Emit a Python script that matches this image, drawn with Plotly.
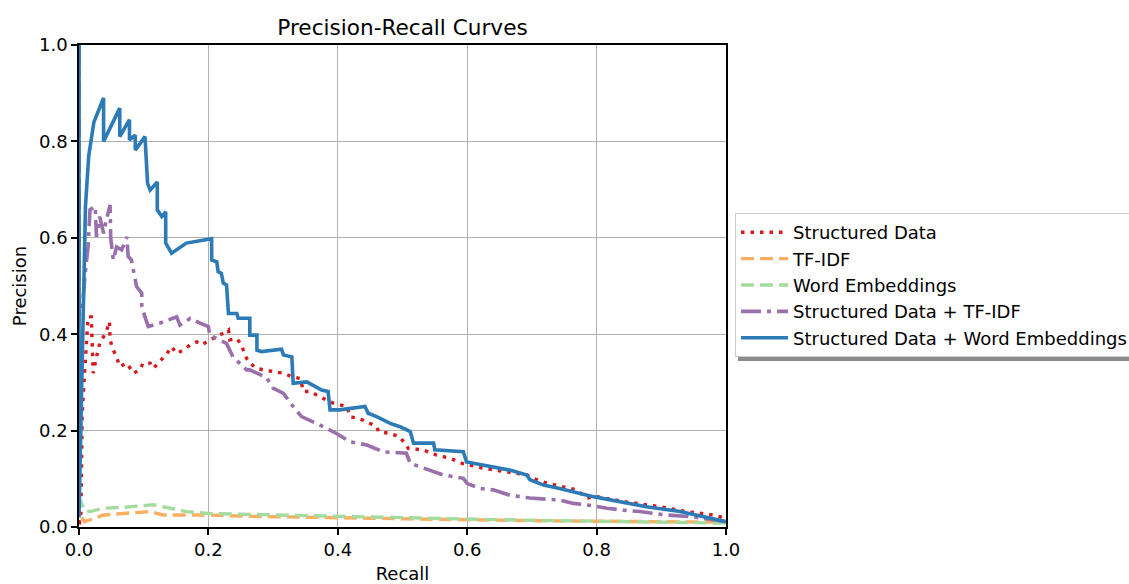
import plotly.graph_objects as go

# ---------------- data ----------------
sd_recall = [0.0, 0.0, 0.003, 0.004, 0.005, 0.008, 0.011, 0.014, 0.019, 0.02, 0.022, 0.022, 0.027,
             0.032, 0.038, 0.043, 0.047, 0.048, 0.053, 0.058, 0.063, 0.074, 0.084, 0.094,
             0.099, 0.11, 0.115, 0.125, 0.136, 0.143, 0.151, 0.161, 0.172, 0.182, 0.19,
             0.202, 0.213, 0.223, 0.231, 0.233, 0.244, 0.251, 0.254, 0.259, 0.264, 0.275,
             0.285, 0.3, 0.316, 0.329, 0.342, 0.347, 0.357, 0.383, 0.393, 0.414, 0.419,
             0.439, 0.46, 0.463, 0.481, 0.496, 0.509, 0.532, 0.553, 0.573, 0.592, 0.625,
             0.646, 0.67, 0.692, 0.702, 0.723, 0.769, 0.785, 0.8, 0.846, 0.898, 0.939,
             0.98, 1.0]
sd_precision = [1.0, 0.0, 0.03, 0.167, 0.236, 0.305, 0.374, 0.436, 0.436, 0.395, 0.353, 0.319, 0.353,
                0.381, 0.395, 0.409, 0.426, 0.388, 0.367, 0.353, 0.333, 0.34, 0.319, 0.326,
                0.34, 0.34, 0.329, 0.343, 0.36, 0.374, 0.36, 0.367, 0.378, 0.384, 0.378,
                0.388, 0.395, 0.402, 0.409, 0.388, 0.391, 0.378, 0.367, 0.35, 0.34, 0.329,
                0.326, 0.322, 0.319, 0.312, 0.308, 0.281, 0.281, 0.263, 0.257, 0.25, 0.229,
                0.222, 0.208, 0.198, 0.194, 0.187, 0.163, 0.16, 0.149, 0.143, 0.132, 0.122,
                0.118, 0.112, 0.108, 0.101, 0.091, 0.077, 0.06, 0.063, 0.052, 0.042, 0.032,
                0.025, 0.018]

tfidf_recall = [0.0, 0.0, 0.004, 0.009, 0.017, 0.038, 0.068, 0.11, 0.13, 0.192, 0.27, 0.35, 0.45,
                0.55, 0.62, 0.7, 0.8, 0.9, 1.0]
tfidf_precision = [1.0, 0.02, 0.02, 0.011, 0.015, 0.025, 0.028, 0.032, 0.025, 0.025, 0.022, 0.02,
                   0.018, 0.016, 0.014, 0.013, 0.012, 0.011, 0.01]

we_recall = [0.0, 0.0, 0.002, 0.004, 0.008, 0.017, 0.038, 0.07, 0.1, 0.115, 0.13, 0.166, 0.2,
             0.295, 0.45, 0.55, 0.62, 0.7, 0.8, 0.9, 1.0]
we_precision = [1.0, 0.05, 0.056, 0.049, 0.035, 0.032, 0.039, 0.041, 0.044, 0.046, 0.042, 0.032,
                0.028, 0.025, 0.021, 0.018, 0.016, 0.014, 0.012, 0.01, 0.008]

sdtf_recall = [0.0, 0.0, 0.005, 0.009, 0.014, 0.017, 0.025, 0.027, 0.032, 0.038, 0.041, 0.048,
               0.049, 0.053, 0.058, 0.066, 0.074, 0.076, 0.081, 0.084, 0.089, 0.097, 0.097,
               0.102, 0.107, 0.125, 0.151, 0.156, 0.172, 0.187, 0.2, 0.202, 0.213, 0.228,
               0.238, 0.249, 0.259, 0.264, 0.28, 0.29, 0.3, 0.316, 0.331, 0.344, 0.367,
               0.398, 0.419, 0.445, 0.47, 0.506, 0.512, 0.532, 0.563, 0.594, 0.6, 0.62,
               0.64, 0.666, 0.697, 0.743, 0.764, 0.795, 0.816, 0.841, 0.867, 0.908, 0.949,
               0.98, 1.0]
sdtf_precision = [1.0, 0.44, 0.45, 0.519, 0.581, 0.658, 0.665, 0.602, 0.644, 0.609, 0.63, 0.668,
                  0.6, 0.554, 0.581, 0.575, 0.602, 0.561, 0.554, 0.533, 0.499, 0.485, 0.457,
                  0.436, 0.416, 0.423, 0.436, 0.419, 0.433, 0.423, 0.416, 0.398, 0.391, 0.381,
                  0.353, 0.34, 0.326, 0.326, 0.315, 0.31, 0.288, 0.277, 0.25, 0.229, 0.215,
                  0.194, 0.177, 0.17, 0.156, 0.153, 0.132, 0.122, 0.108, 0.101, 0.09, 0.08,
                  0.077, 0.066, 0.06, 0.056, 0.049, 0.044, 0.039, 0.035, 0.032, 0.025, 0.021,
                  0.015, 0.011]

sdwe_recall = [0.0, 0.0, 0.002, 0.005, 0.008, 0.010, 0.015, 0.023, 0.038, 0.038, 0.063,
               0.063, 0.078, 0.078, 0.087, 0.087, 0.102, 0.106, 0.11, 0.121, 0.121, 0.128,
               0.134, 0.134, 0.143, 0.166, 0.205, 0.205, 0.213, 0.215, 0.22, 0.223, 0.228,
               0.231, 0.244, 0.246, 0.264, 0.264, 0.275, 0.275, 0.282, 0.313, 0.316, 0.329,
               0.331, 0.352, 0.375, 0.385, 0.388, 0.403, 0.442, 0.447, 0.46, 0.481, 0.496,
               0.512, 0.517, 0.548, 0.55, 0.594, 0.599, 0.625, 0.651, 0.666, 0.692, 0.697,
               0.718, 0.743, 0.795, 0.836, 0.877, 0.929, 0.98, 1.0]
sdwe_precision = [1.0, 0.02, 0.15, 0.35, 0.5, 0.665, 0.77, 0.84, 0.89, 0.8, 0.869, 0.81,
                  0.845, 0.803, 0.813, 0.782, 0.81, 0.713, 0.699, 0.716, 0.658, 0.644, 0.654,
                  0.589, 0.568, 0.589, 0.598, 0.554, 0.55, 0.53, 0.526, 0.506, 0.502, 0.443,
                  0.443, 0.433, 0.433, 0.398, 0.398, 0.367, 0.364, 0.369, 0.357, 0.353,
                  0.298, 0.301, 0.284, 0.281, 0.243, 0.243, 0.25, 0.236, 0.229, 0.215, 0.208,
                  0.198, 0.174, 0.174, 0.16, 0.156, 0.135, 0.129, 0.122, 0.118, 0.108, 0.098,
                  0.087, 0.08, 0.063, 0.052, 0.042, 0.032, 0.018, 0.011]

tick_vals = [0.0, 0.2, 0.4, 0.6, 0.8, 1.0]
tick_text = ["0.0", "0.2", "0.4", "0.6", "0.8", "1.0"]

FONT = "DejaVu Sans"

fig = go.Figure()
fig.add_trace(go.Scatter(x=sd_recall, y=sd_precision, mode="lines", name="Structured Data",
                         line=dict(color="#d7191c", width=3.4, dash="3.5px,6px")))
fig.add_trace(go.Scatter(x=tfidf_recall, y=tfidf_precision, mode="lines", name="TF-IDF",
                         line=dict(color="#fdae61", width=3.4, dash="13px,6px")))
fig.add_trace(go.Scatter(x=we_recall, y=we_precision, mode="lines", name="Word Embeddings",
                         line=dict(color="#a6dba0", width=3.4, dash="13px,6px")))
fig.add_trace(go.Scatter(x=sdtf_recall, y=sdtf_precision, mode="lines", name="Structured Data + TF-IDF",
                         line=dict(color="#9970ab", width=3.6, dash="20px,6px,4px,6px")))
fig.add_trace(go.Scatter(x=sdwe_recall, y=sdwe_precision, mode="lines",
                         name="Structured Data + Word Embeddings",
                         line=dict(color="#2c7bb6", width=3.6)))

axis_common = dict(
    range=[0, 1], tickvals=tick_vals, ticktext=tick_text,
    showgrid=True, gridcolor="#b0b0b0", gridwidth=1.4,
    showline=True, linecolor="black", linewidth=1.5, mirror=True,
    ticks="outside", ticklen=6, tickwidth=1.5, tickcolor="black",
    zeroline=False, automargin=False,
    tickfont=dict(family=FONT, size=18, color="black"),
)

fig.update_layout(
    width=1129, height=584,
    margin=dict(l=79, r=403, t=45, b=57, autoexpand=False),
    paper_bgcolor="white", plot_bgcolor="white",
    font=dict(family=FONT, size=18, color="black"),
    title=dict(text="Precision-Recall Curves", x=0.5, xref="paper", xanchor="center",
               y=1, yref="paper", yanchor="bottom", pad=dict(b=10),
               font=dict(family=FONT, size=21.6, color="black")),
    xaxis=dict(axis_common, title=dict(text="Recall", standoff=8,
                                       font=dict(family=FONT, size=18, color="black"))),
    yaxis=dict(axis_common, title=dict(text="Precision", standoff=8,
                                       font=dict(family=FONT, size=18, color="black"))),
    legend=dict(x=(735 - 79) / 647, xanchor="left", y=(527 - 213) / 482, yanchor="top",
                bgcolor="white", bordercolor="#cccccc", borderwidth=1, itemwidth=47,
                font=dict(family=FONT, size=18, color="black"), tracegroupgap=0),
    showlegend=True,
)

# legend shadow (like matplotlib's shadow=True)
fig.add_shape(type="rect", xref="paper", yref="paper",
              x0=(738 - 79) / 647, x1=(1160 - 79) / 647,
              y0=(527 - 361) / 482, y1=(527 - 219) / 482,
              fillcolor="#8c8c8c", line=dict(width=0), layer="above")

fig.write_html("out.html")
